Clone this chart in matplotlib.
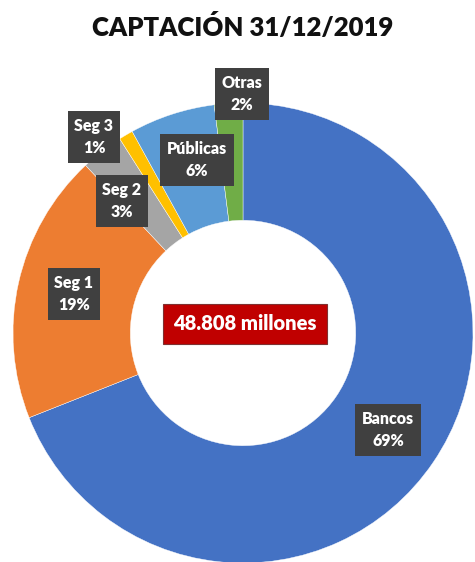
import matplotlib.pyplot as plt

# captación por tipo de entidad, en %
categorias = ["Bancos", "Seg 1", "Seg 2", "Seg 3", "Públicas", "Otras"]
porcentajes = [69, 19, 3, 1, 6, 2]
colores = ["#4472C4", "#ED7D31", "#A5A5A5", "#FFC000", "#5B9BD5", "#70AD47"]
total_txt = "48.808 millones"
titulo = "CAPTACIÓN 31/12/2019"

W, H = 475, 562
# posiciones de las etiquetas en pixeles (y desde arriba)
pos_etiquetas = [(388, 430), (74, 294), (122, 201), (94, 137), (197, 160), (242, 94)]

fig = plt.figure(figsize=(W / 100, H / 100), dpi=100)
ax = fig.add_axes([0, 0, 1, 1])

cx, cy, r = 243, H - 333, 230
ax.pie(porcentajes, colors=colores, startangle=90, counterclock=False,
       center=(cx, cy), radius=r, frame=True,
       wedgeprops=dict(width=r * 0.51, edgecolor="white", linewidth=0.3))
ax.set_xlim(0, W)
ax.set_ylim(0, H)
ax.set_aspect("equal")
ax.axis("off")

fuente = ["Lato", "DejaVu Sans"]
for nombre, p, (x, y) in zip(categorias, porcentajes, pos_etiquetas):
    ax.text(x, H - y, f"{nombre}\n{p}%", ha="center", va="center",
            color="white", fontsize=11.5, fontweight="heavy", family=fuente,
            linespacing=1.45,
            bbox=dict(boxstyle="square,pad=0.42", facecolor="#404040",
                      edgecolor="none"))

ax.text(245, H - 324, total_txt, ha="center", va="center", color="white",
        fontsize=14.5, fontweight="heavy", family=fuente,
        bbox=dict(boxstyle="square,pad=0.5", facecolor="#C00000",
                  edgecolor="#7f3030", linewidth=0.8))

fig.text(243 / W, 1 - 27 / H, titulo, ha="center", va="center",
         fontsize=18.5, fontweight="heavy", family=fuente, color="#111111")

fig.savefig("out.png", dpi=100)
